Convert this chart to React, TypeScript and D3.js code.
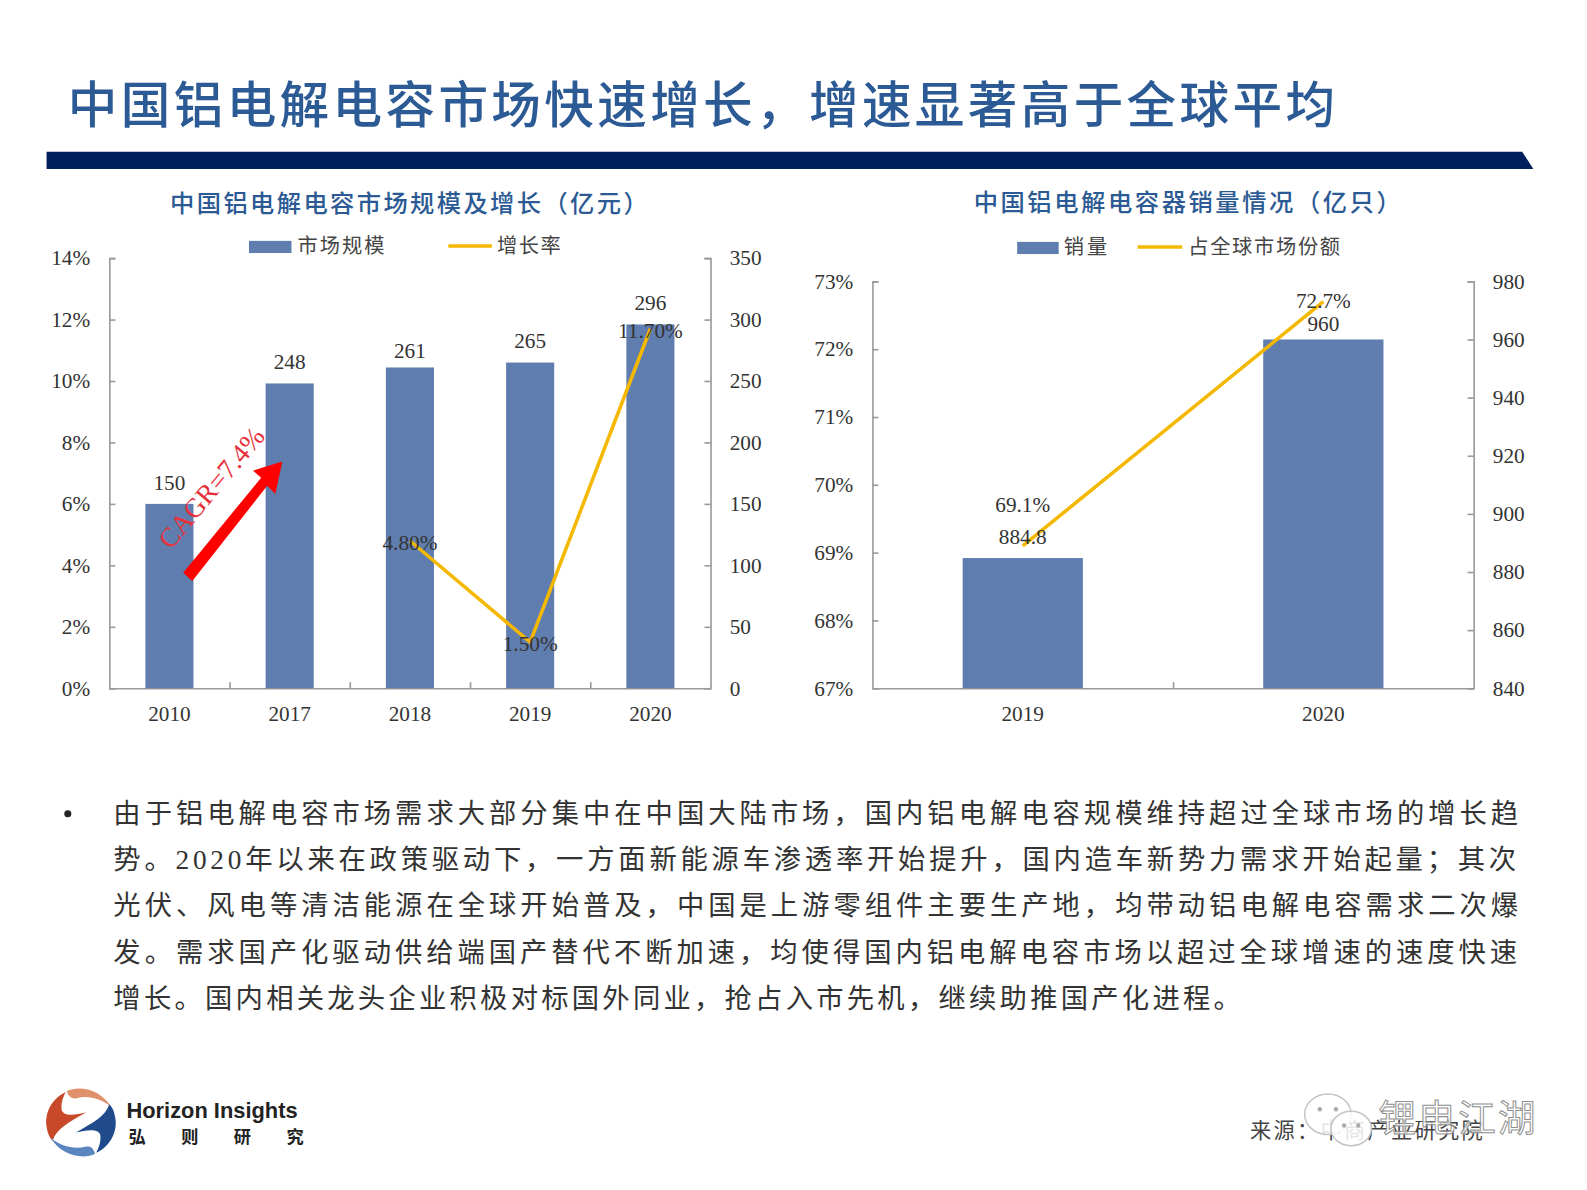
import * as d3 from "d3";
import React, { useEffect, useRef } from "react";

const WIDTH = 1587;
const HEIGHT = 1190;
// layout numbers below were measured on a 1568 wide copy of the slide
const SCALE = 1587 / 1568;
const CJK = '"Liberation Serif", "Noto Sans CJK SC", sans-serif';
const LATIN = '"Liberation Serif", serif';
const TITLE_BLUE = "#2b5a94";
const BAR_BLUE = "#5f7dae";
const LINE_GOLD = "#f5b800";
const TEXT = "#333333";

const sizeYears = ["2010", "2017", "2018", "2019", "2020"];
const sizeValues = [150, 248, 261, 265, 296];
const growthYears = ["2018", "2019", "2020"];
const growthValues = [4.8, 1.5, 11.7];
const growthLabels = ["4.80%", "1.50%", "11.70%"];

const salesYears = ["2019", "2020"];
const salesValues = [884.8, 960];
const shareValues = [69.1, 72.7];
const shareLabels = ["69.1%", "72.7%"];

// full width punctuation kept as escapes
const COMMA = "\uFF0C";
const SEMI = "\uFF1B";
const COLON = "\uFF1A";
const LP = "\uFF08";
const RP = "\uFF09";

const pageTitle = `中国铝电解电容市场快速增长${COMMA}增速显著高于全球平均`;
const sizeTitle = `中国铝电解电容市场规模及增长${LP}亿元${RP}`;
const salesTitle = `中国铝电解电容器销量情况${LP}亿只${RP}`;
const sourceText = `来源${COLON}中商产业研究院`;

const bodyLines = [
  `由于铝电解电容市场需求大部分集中在中国大陆市场${COMMA}国内铝电解电容规模维持超过全球市场的增长趋`,
  `势。2020年以来在政策驱动下${COMMA}一方面新能源车渗透率开始提升${COMMA}国内造车新势力需求开始起量${SEMI}其次`,
  `光伏、风电等清洁能源在全球开始普及${COMMA}中国是上游零组件主要生产地${COMMA}均带动铝电解电容需求二次爆`,
  `发。需求国产化驱动供给端国产替代不断加速${COMMA}均使得国内铝电解电容市场以超过全球增速的速度快速`,
  `增长。国内相关龙头企业积极对标国外同业${COMMA}抢占入市先机${COMMA}继续助推国产化进程。`,
];
const bodyLineEnds = [1500, 1498, 1500, 1499, 1226];

type Sel = d3.Selection<SVGGElement, unknown, null, undefined>;

// both charts share the same axes layout
const drawFrame = (
  g: Sel,
  x0: number,
  top: number,
  cats: string[],
  leftDomain: [number, number],
  leftStep: number,
  leftFmt: (d: number) => string,
  rightDomain: [number, number],
  rightStep: number
) => {
  const w = 594;
  const bottom = 680;
  const x = d3.scaleBand().domain(cats).range([x0, x0 + w]).paddingInner(0.6).paddingOuter(0.3);
  const yL = d3.scaleLinear().domain(leftDomain).range([bottom, top]);
  const yR = d3.scaleLinear().domain(rightDomain).range([bottom, top]);
  const edge = d3.scaleLinear().domain([0, cats.length]).range([x0, x0 + w]);

  const style = (a: Sel) => {
    a.selectAll("path,line").attr("stroke", "#9a9a9a").attr("stroke-width", 1.6);
    a.selectAll("text").attr("font-family", LATIN).attr("font-size", 21).attr("fill", TEXT);
  };

  g.append("g")
    .attr("transform", `translate(${x0},0)`)
    .call(
      d3.axisLeft(yL)
        .tickValues(d3.range(leftDomain[0], leftDomain[1] + leftStep / 2, leftStep))
        .tickFormat((d) => leftFmt(+d))
        .tickSizeInner(-6)
        .tickSizeOuter(-6)
        .tickPadding(19) as any
    )
    .call(style);

  g.append("g")
    .attr("transform", `translate(${x0 + w},0)`)
    .call(
      d3.axisRight(yR)
        .tickValues(d3.range(rightDomain[0], rightDomain[1] + rightStep / 2, rightStep))
        .tickSizeInner(-6)
        .tickSizeOuter(-6)
        .tickPadding(19) as any
    )
    .call(style);

  // ticks sit between the categories, labels under the bars
  g.append("g")
    .attr("transform", `translate(0,${bottom})`)
    .call(
      d3.axisBottom(edge)
        .tickValues(d3.range(1, cats.length))
        .tickFormat(() => "")
        .tickSizeInner(-6)
        .tickSizeOuter(0) as any
    )
    .call(style);

  g.append("g")
    .attr("transform", `translate(0,${bottom})`)
    .call(d3.axisBottom(x).tickSize(0).tickPadding(17) as any)
    .call(style)
    .call((a: Sel) => a.select("path").remove());

  return { x, yL, yR, bottom };
};

const addText = (
  g: Sel,
  str: string,
  x: number,
  y: number,
  size = 21,
  fill = TEXT,
  font = LATIN
) =>
  g.append("text")
    .attr("x", x)
    .attr("y", y)
    .attr("text-anchor", "middle")
    .attr("dominant-baseline", "central")
    .attr("font-family", font)
    .attr("font-size", size)
    .attr("fill", fill)
    .text(str);

const fitted = (
  g: Sel,
  str: string,
  x: number,
  x2: number,
  y: number,
  size: number,
  fill: string,
  weight = 400
) =>
  g.append("text")
    .attr("x", x)
    .attr("y", y)
    .attr("dominant-baseline", "central")
    .attr("font-family", CJK)
    .attr("font-size", size)
    .attr("font-weight", weight)
    .attr("fill", fill)
    .attr("textLength", x2 - x)
    .attr("lengthAdjust", "spacing")
    .text(str);

const drawHeader = (g: Sel) => {
  fitted(g, pageTitle, 67, 1319, 105, 49, TITLE_BLUE, 500);
  g.append("path")
    .attr("d", d3.line()([[46, 150], [1504, 150], [1515, 167], [46, 167]]) + "Z")
    .attr("fill", "#001f5b");
};

const drawSizeChart = (g: Sel) => {
  fitted(g, sizeTitle, 168, 640, 201, 24, TITLE_BLUE, 500);

  g.append("rect").attr("x", 246).attr("y", 238).attr("width", 42).attr("height", 12).attr("fill", BAR_BLUE);
  fitted(g, "市场规模", 294, 380, 243, 20, "#444444");
  g.append("line").attr("x1", 443).attr("x2", 486).attr("y1", 243).attr("y2", 243).attr("stroke", LINE_GOLD).attr("stroke-width", 3.5);
  fitted(g, "增长率", 491, 554, 243, 20, "#444444");

  const { x, yL, yR, bottom } = drawFrame(
    g, 108, 255, sizeYears, [0, 14], 2, (d) => `${d}%`, [0, 350], 50
  );
  const bw = x.bandwidth();

  g.selectAll("rect.bar")
    .data(sizeValues)
    .enter()
    .append("rect")
    .attr("class", "bar")
    .attr("x", (_, i) => x(sizeYears[i]) as number)
    .attr("width", bw)
    .attr("y", (d) => yR(d))
    .attr("height", (d) => bottom - yR(d))
    .attr("fill", BAR_BLUE);

  const line = d3.line<number>()
    .x((_, i) => (x(growthYears[i]) as number) + bw / 2)
    .y((d) => yL(d));
  g.append("path")
    .attr("d", line(growthValues))
    .attr("fill", "none")
    .attr("stroke", LINE_GOLD)
    .attr("stroke-width", 3.5);

  sizeValues.forEach((v, i) => {
    const off = sizeYears[i] === "2018" ? 16 : 21;
    addText(g, String(v), (x(sizeYears[i]) as number) + bw / 2, yR(v) - off);
  });
  growthValues.forEach((v, i) => {
    addText(g, growthLabels[i], (x(growthYears[i]) as number) + bw / 2, yL(v) + 2);
  });

  // CAGR arrow
  const arrow = d3.line()([
    [181, 566], [258, 472], [250, 465], [279, 456], [272, 488], [264, 480], [190, 574],
  ]);
  g.append("path").attr("d", arrow + "Z").attr("fill", "#ff0000");
  addText(g, "CAGR=7.4%", 209, 482, 27, "#e8303a").attr(
    "transform", "rotate(-50 209 482)"
  );
};

const drawSalesChart = (g: Sel) => {
  fitted(g, salesTitle, 962, 1384, 200, 24, TITLE_BLUE, 500);

  g.append("rect").attr("x", 1005).attr("y", 239).attr("width", 41).attr("height", 12).attr("fill", BAR_BLUE);
  fitted(g, "销量", 1051, 1094, 244, 20, "#444444");
  g.append("line").attr("x1", 1124).attr("x2", 1168).attr("y1", 244).attr("y2", 244).attr("stroke", LINE_GOLD).attr("stroke-width", 3.5);
  fitted(g, "占全球市场份额", 1174, 1324, 244, 20, "#444444");

  const { x, yL, yR, bottom } = drawFrame(
    g, 862, 278, salesYears, [67, 73], 1, (d) => `${d}%`, [840, 980], 20
  );
  const bw = x.bandwidth();

  g.selectAll("rect.bar")
    .data(salesValues)
    .enter()
    .append("rect")
    .attr("class", "bar")
    .attr("x", (_, i) => x(salesYears[i]) as number)
    .attr("width", bw)
    .attr("y", (d) => yR(d))
    .attr("height", (d) => bottom - yR(d))
    .attr("fill", BAR_BLUE);

  const line = d3.line<number>()
    .x((_, i) => (x(salesYears[i]) as number) + bw / 2)
    .y((d) => yL(d));
  g.append("path")
    .attr("d", line(shareValues))
    .attr("fill", "none")
    .attr("stroke", LINE_GOLD)
    .attr("stroke-width", 3.5);

  salesValues.forEach((v, i) => {
    addText(g, String(v), (x(salesYears[i]) as number) + bw / 2, yR(v) - (i === 0 ? 21 : 15));
  });
  shareValues.forEach((v, i) => {
    addText(g, shareLabels[i], (x(salesYears[i]) as number) + bw / 2, yL(v) + (i === 0 ? -40 : -1));
  });
};

const drawBody = (g: Sel) => {
  g.append("circle").attr("cx", 67).attr("cy", 804).attr("r", 3.5).attr("fill", "#222222");
  bodyLines.forEach((s, i) => {
    fitted(g, s, 112, bodyLineEnds[i], 804 + i * 45.7, 27, "#333333");
  });
};

const drawLogo = (g: Sel) => {
  // swirl is point symmetric, so each half is drawn once and turned round
  const logo = g.append("g").attr("transform", "translate(80,1109)");
  const crescent = "M-15,-30C-30,-23,-36,-8,-34,4C-33,11,-31,15,-28,18C-24,6,-12,0,5,-10C-6,-7,-17,-6,-19,-12C-20,-18,-18,-25,-15,-30Z";
  const rim = "M-14,-31C-2,-37,20,-33,30,-15C20,-24,6,-27,-4,-24C-8,-23,-12,-24,-14,-31Z";
  [0, 180].forEach((turn, i) => {
    const half = logo.append("g").attr("transform", `rotate(${turn})`);
    half.append("path").attr("d", crescent).attr("fill", i === 0 ? "#c8482a" : "#1f4a8c");
    half.append("path").attr("d", rim).attr("fill", i === 0 ? "#e0906a" : "#5b85be");
  });
  g.append("text")
    .attr("x", 125)
    .attr("y", 1098)
    .attr("dominant-baseline", "central")
    .attr("font-family", '"Liberation Sans", sans-serif')
    .attr("font-weight", 700)
    .attr("font-size", 21)
    .attr("fill", "#222222")
    .attr("textLength", 169)
    .attr("lengthAdjust", "spacingAndGlyphs")
    .text("Horizon Insights");
  fitted(g, "弘则研究", 127, 300, 1124, 17, "#222222", 700);
};

const drawSource = (g: Sel) => {
  fitted(g, sourceText, 1235, 1465, 1117, 21, "#444444");

  // wechat watermark on top of the source line
  const mark = g.append("g").attr("fill", "#ffffff").attr("fill-opacity", 0.85).attr("stroke", "#c4c4c4").attr("stroke-width", 1.5);
  mark.append("ellipse").attr("cx", 1312).attr("cy", 1101).attr("rx", 23).attr("ry", 20);
  mark.append("ellipse").attr("cx", 1335).attr("cy", 1115).attr("rx", 20).attr("ry", 17);
  const eyes: [number, number][] = [[1304, 1096], [1320, 1096], [1328, 1112], [1342, 1112]];
  eyes.forEach(([cx, cy]) => {
    g.append("circle").attr("cx", cx).attr("cy", cy).attr("r", 2.2).attr("fill", "#aaaaaa");
  });
  g.append("text")
    .attr("x", 1362)
    .attr("y", 1106)
    .attr("dominant-baseline", "central")
    .attr("font-family", CJK)
    .attr("font-size", 37)
    .attr("fill", "#ffffff")
    .attr("fill-opacity", 0.7)
    .attr("stroke", "#8f8f8f")
    .attr("stroke-width", 1)
    .attr("textLength", 155)
    .attr("lengthAdjust", "spacing")
    .text("锂电江湖");
};

const App = () => {
  const ref = useRef<SVGSVGElement>(null);

  useEffect(() => {
    document.body.style.margin = "0";
    const svg = d3.select(ref.current);
    svg.selectAll("*").remove();
    const root = svg.append("g").attr("transform", `scale(${SCALE})`) as unknown as Sel;
    drawHeader(root.append("g"));
    drawSizeChart(root.append("g"));
    drawSalesChart(root.append("g"));
    drawBody(root.append("g"));
    drawLogo(root.append("g"));
    drawSource(root.append("g"));
  }, []);

  return (
    <svg
      ref={ref}
      width={WIDTH}
      height={HEIGHT}
      viewBox={`0 0 ${WIDTH} ${HEIGHT}`}
      style={{ display: "block", background: "#ffffff" }}
    />
  );
};

export default App;
